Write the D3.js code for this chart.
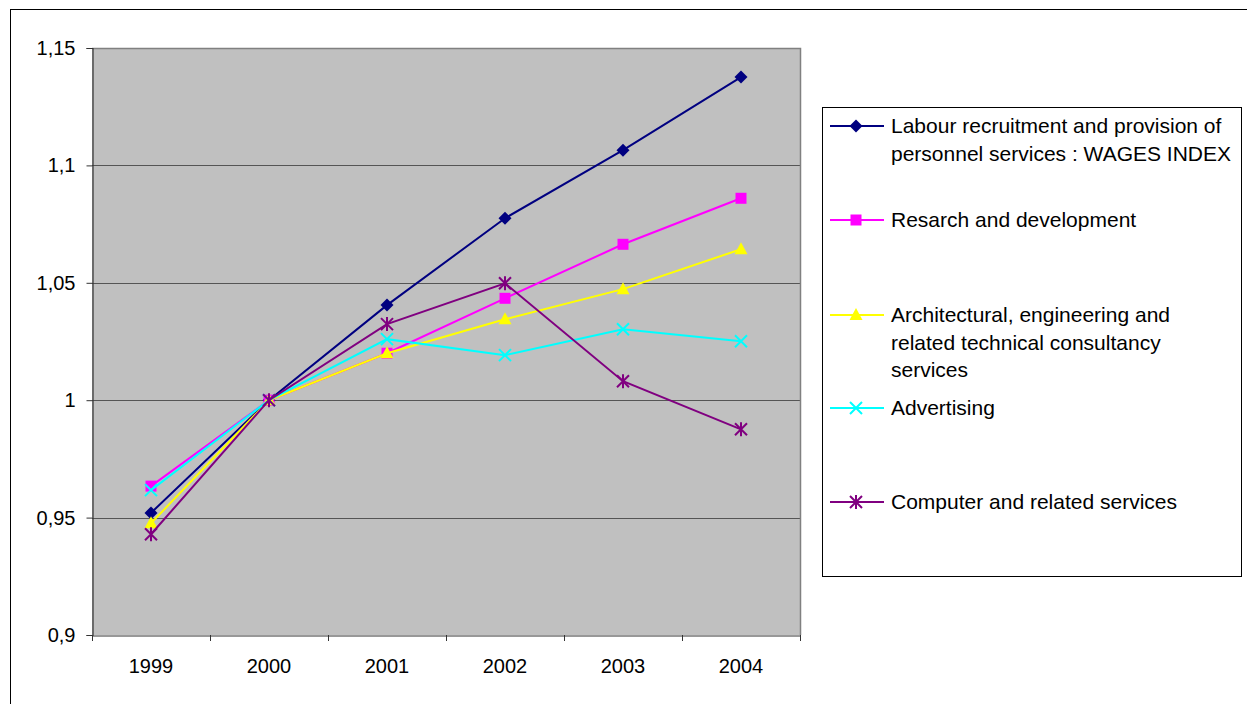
<!DOCTYPE html>
<html>
<head>
<meta charset="utf-8">
<script src="https://cdn.jsdelivr.net/npm/d3@7/dist/d3.min.js"></script>
<style>
  html, body { margin: 0; padding: 0; background: #fff; }
  svg { display: block; }
  text { font-family: "Liberation Sans", Arial, sans-serif; fill: #000; }
</style>
</head>
<body>
<svg id="chart" width="1247" height="704"></svg>
<script>
// Years on the category axis
const years = ["1999", "2000", "2001", "2002", "2003", "2004"];

// Index values per sector (2000 = 1)
const labourWages   = [0.952, 1.000, 1.0405, 1.0775, 1.1065, 1.1376];
const researchDev   = [0.9634, 1.000, 1.020, 1.0434, 1.0664, 1.086];
const architectural = [0.9476, 1.000, 1.020, 1.0345, 1.0473, 1.0643];
const advertising   = [0.9617, 1.000, 1.026, 1.0192, 1.0302, 1.0251];
const computer      = [0.9429, 1.000, 1.0324, 1.0498, 1.0081, 0.9876];

// Value-axis tick labels
const yTicks = [0.9, 0.95, 1, 1.05, 1.1, 1.15];

const seriesNames = [
  ["Labour recruitment and provision of", "personnel services : WAGES INDEX"],
  ["Resarch and development"],
  ["Architectural, engineering and", "related technical consultancy", "services"],
  ["Advertising"],
  ["Computer and related services"]
];
const seriesValues = [labourWages, researchDev, architectural, advertising, computer];
const seriesColors = ["#000080", "#FF00FF", "#FFFF00", "#00FFFF", "#800080"];
const seriesMarkers = ["diamond", "square", "triangle", "cross", "asterisk"];

const svg = d3.select("#chart");
const FONT = "Liberation Sans, Arial, sans-serif";

// Chart frame
svg.append("rect")
  .attr("x", 10.5).attr("y", 9.5)
  .attr("width", 1260).attr("height", 720)
  .attr("fill", "#fff").attr("stroke", "#000").attr("stroke-width", 1);

const plot = { left: 92, top: 48, right: 800, bottom: 635 };

const x = d3.scaleBand().domain(years).range([plot.left, plot.right]);
const y = d3.scaleLinear().domain([0.9, 1.15]).range([plot.bottom, plot.top]);

// Plot background
svg.append("rect")
  .attr("x", plot.left).attr("y", plot.top)
  .attr("width", plot.right - plot.left).attr("height", plot.bottom - plot.top)
  .attr("fill", "#C0C0C0");

// Horizontal gridlines
svg.append("g")
  .selectAll("line")
  .data(yTicks.filter(v => v > 0.9))
  .join("line")
  .attr("x1", plot.left).attr("x2", plot.right)
  .attr("y1", d => Math.round(y(d)) + 0.5).attr("y2", d => Math.round(y(d)) + 0.5)
  .attr("stroke", "#555").attr("stroke-width", 1.2);

// Plot area border (top & right)
svg.append("path")
  .attr("d", `M${plot.left},${plot.top + 0.5}H${plot.right + 0.5}V${plot.bottom}`)
  .attr("fill", "none").attr("stroke", "#808080").attr("stroke-width", 1.5);

const fmt = v => d3.format(".2~f")(v).replace(".", ",");

// Value axis
const yAxis = d3.axisLeft(y).tickValues(yTicks).tickFormat(fmt).tickSize(6).tickPadding(11);
const gy = svg.append("g").attr("transform", `translate(${plot.left + 0.5},0)`).call(yAxis);
gy.attr("font-size", 20).attr("font-family", FONT);
gy.select(".domain").attr("stroke", "#333").attr("stroke-width", 1.2);
gy.selectAll(".tick line").attr("stroke", "#333");
gy.selectAll("text").attr("fill", "#000");

// Category axis with ticks between categories
const xAxis = d3.axisBottom(x).tickSize(0).tickPadding(23);
const gx = svg.append("g").attr("transform", `translate(0,${plot.bottom + 0.5})`).call(xAxis);
gx.attr("font-size", 20).attr("font-family", FONT);
gx.select(".domain").attr("stroke", "#333").attr("stroke-width", 1.2);
gx.selectAll("text").attr("fill", "#000");
svg.append("g")
  .selectAll("line")
  .data(years.map(d => x(d)).concat([x(years[years.length - 1]) + x.bandwidth()]))
  .join("line")
  .attr("x1", d => Math.round(d) + 0.5).attr("x2", d => Math.round(d) + 0.5)
  .attr("y1", plot.bottom).attr("y2", plot.bottom + 6)
  .attr("stroke", "#333");

// Marker drawing
function drawMarker(g, type, color, cx, cy) {
  const m = g.append("g").attr("transform", `translate(${cx},${cy})`);
  if (type === "diamond") {
    m.append("path").attr("d", "M0,-6.5L6.5,0L0,6.5L-6.5,0Z").attr("fill", color);
  } else if (type === "square") {
    m.append("rect").attr("x", -5.5).attr("y", -5.5).attr("width", 11).attr("height", 11).attr("fill", color);
  } else if (type === "triangle") {
    m.append("path").attr("d", "M0,-7L6.5,5L-6.5,5Z").attr("fill", color);
  } else if (type === "cross") {
    m.append("path").attr("d", "M-6,-6L6,6M-6,6L6,-6").attr("stroke", color).attr("stroke-width", 2);
  } else if (type === "asterisk") {
    m.append("path").attr("d", "M-6,-6L6,6M-6,6L6,-6M0,-7V7").attr("stroke", color).attr("stroke-width", 2);
  }
}

const line = d3.line()
  .x((d, i) => x(years[i]) + x.bandwidth() / 2)
  .y(d => y(d));

// Series lines and markers
seriesValues.forEach((vals, s) => {
  const g = svg.append("g");
  g.append("path")
    .datum(vals)
    .attr("d", line)
    .attr("fill", "none")
    .attr("stroke", seriesColors[s])
    .attr("stroke-width", 2);
  vals.forEach((v, i) => {
    drawMarker(g, seriesMarkers[s], seriesColors[s], x(years[i]) + x.bandwidth() / 2, y(v));
  });
});

// Legend
const legend = svg.append("g");
legend.append("rect")
  .attr("x", 822.5).attr("y", 107.5).attr("width", 419).attr("height", 469)
  .attr("fill", "#fff").attr("stroke", "#000").attr("stroke-width", 1);

const legendRowY = [126, 220, 315, 408, 502];
seriesNames.forEach((lines, s) => {
  const ly = legendRowY[s];
  legend.append("line")
    .attr("x1", 830).attr("x2", 884).attr("y1", ly).attr("y2", ly)
    .attr("stroke", seriesColors[s]).attr("stroke-width", 2);
  drawMarker(legend, seriesMarkers[s], seriesColors[s], 856, ly);
  lines.forEach((t, k) => {
    legend.append("text")
      .attr("x", 891)
      .attr("y", ly + k * 27.5)
      .attr("dy", "0.35em")
      .attr("font-size", 21)
      .text(t);
  });
});
</script>
</body>
</html>
